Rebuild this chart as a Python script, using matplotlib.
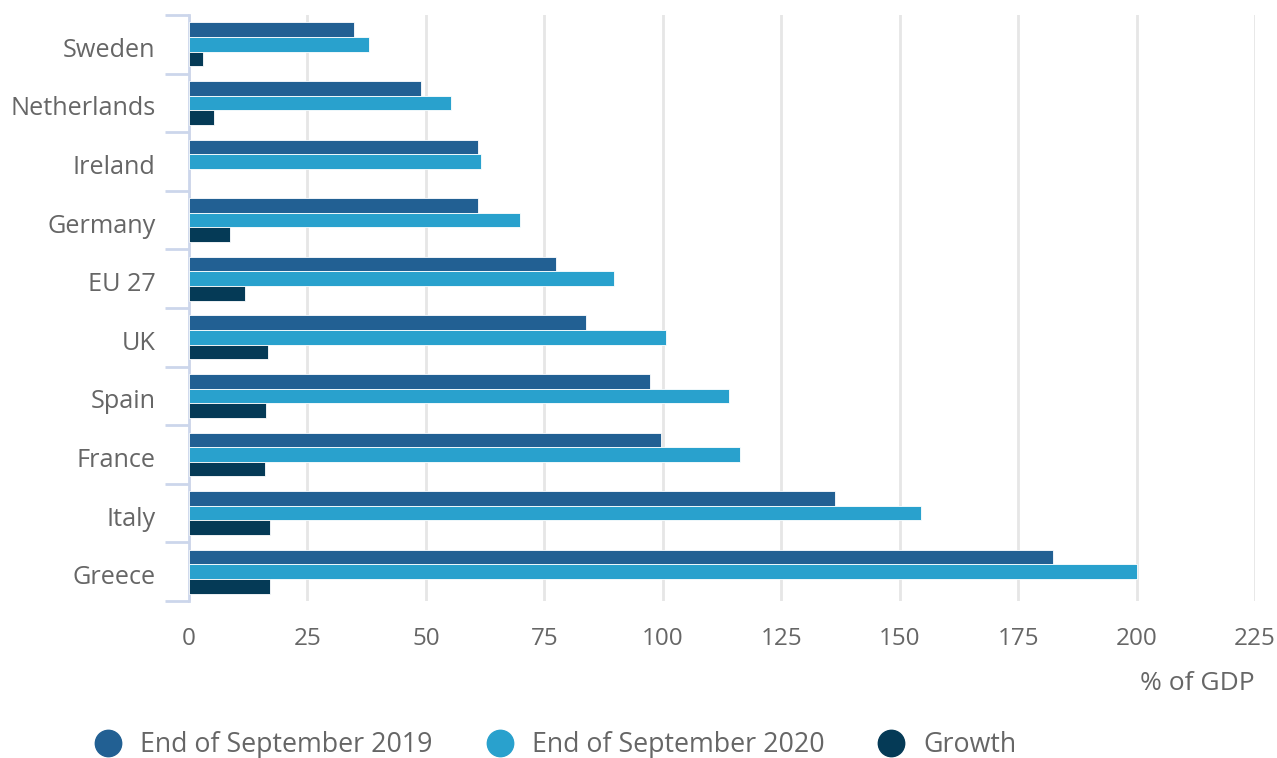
import numpy as np
import matplotlib
matplotlib.use('Agg')
import matplotlib.pyplot as plt
import matplotlib.transforms as mtransforms
from matplotlib.lines import Line2D

plt.rcParams['font.family'] = ['Open Sans', 'DejaVu Sans']

# data, top to bottom as in the chart
countries = ['Sweden', 'Netherlands', 'Ireland', 'Germany', 'EU 27',
             'UK', 'Spain', 'France', 'Italy', 'Greece']
sep_2019 = [34.9, 49.0, 60.9, 60.9, 77.4, 83.9, 97.3, 99.6, 136.3, 182.4]
sep_2020 = [38.0, 55.2, 61.7, 69.8, 89.6, 100.6, 114.0, 116.3, 154.4, 200.0]
growth = [3.0, 5.3, np.nan, 8.7, 11.8, 16.7, 16.3, 16.1, 17.0, 17.0]
x_ticks = [0, 25, 50, 75, 100, 125, 150, 175, 200, 225]

c2019 = '#226093'
c2020 = '#29a1cd'
cgrowth = '#053a56'
text_col = '#666666'
axis_col = '#ccd6eb'

fig = plt.figure(figsize=(12.77, 7.58), dpi=100)
ax = fig.add_axes([189 / 1277, 1 - 601 / 758, (1255 - 189) / 1277, (601 - 15) / 758])

y = np.arange(len(countries))
h = 0.25
ax.barh(y - h, sep_2019, height=h, color=c2019, edgecolor='white', linewidth=0.6, zorder=3)
ax.barh(y, sep_2020, height=h, color=c2020, edgecolor='white', linewidth=0.6, zorder=3)
ax.barh(y + h, growth, height=h, color=cgrowth, edgecolor='white', linewidth=0.6, zorder=3)

ax.set_xlim(0, 225)
ax.set_ylim(len(countries) - 0.5, -0.5)
ax.set_xticks(x_ticks)
ax.set_yticks(y)
ax.set_yticklabels(countries)
ax.set_yticks(np.arange(len(countries) + 1) - 0.5, minor=True)
ax.grid(axis='x', color='#e6e6e6', linewidth=2, zorder=0)

for side in ['top', 'right', 'bottom']:
    ax.spines[side].set_visible(False)
ax.spines['left'].set_color(axis_col)
ax.spines['left'].set_linewidth(2)

ax.tick_params(axis='y', which='major', length=0, pad=24, labelsize=18.2, labelcolor=text_col)
ax.tick_params(axis='y', which='minor', length=17, width=2, color=axis_col)
ax.tick_params(axis='x', length=0, pad=19, labelsize=17.5, labelcolor=text_col)

# labels sit a little below the category centre
shift = mtransforms.ScaledTranslation(0, -3 / 100, fig.dpi_scale_trans)
for lab in ax.get_yticklabels():
    lab.set_transform(lab.get_transform() + shift)

fig.text(1255 / 1277, 1 - 683 / 758, '% of GDP', ha='right', va='center',
         fontsize=19, color=text_col)

handles = [Line2D([], [], marker='o', linestyle='none', markersize=19, color=c)
           for c in [c2019, c2020, cgrowth]]
labels = ['End of September 2019', 'End of September 2020', 'Growth']
fig.legend(handles, labels, loc='center', bbox_to_anchor=(0.434, 1 - 745 / 758), ncol=3,
           frameon=False, fontsize=19.3, labelcolor=text_col, handletextpad=0.6,
           columnspacing=1.9, handlelength=1.2)

fig.savefig('out.png', dpi=100)
